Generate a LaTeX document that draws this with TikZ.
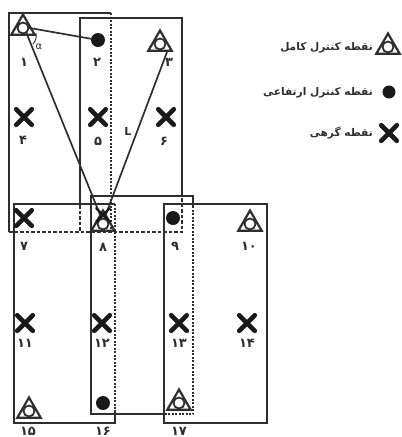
\documentclass[tikz,border=0pt]{standalone}
\usepackage{fontspec}
\newfontfamily\arabicfont[Script=Arabic]{DejaVu Sans}
\newfontfamily\latinfont{DejaVu Sans}
\TeXXeTstate=1
\usetikzlibrary{shapes.geometric,shapes.misc}
\definecolor{ink}{gray}{0.18}
\tikzset{
  frame/.style={draw=ink,line width=1.7pt},
  dashline/.style={draw=ink,line width=1.5pt,dash pattern=on 3.5pt off 2pt},
  dotline/.style={draw=ink,line width=2pt,dash pattern=on 2pt off 1.5pt},
  conn/.style={draw=ink,line width=1.7pt},
  tri/.style={regular polygon,regular polygon sides=3,draw=ink,line width=2.2pt,minimum size=27pt,inner sep=0pt,outer sep=0pt},
  hole/.style={circle,draw=ink,line width=1.8pt,fill=white,minimum size=11pt,inner sep=0pt},
  blob/.style={circle,fill=black!90,minimum size=14pt,inner sep=0pt},
  cross/.style={cross out,draw=black!90,line width=4.6pt,minimum size=11pt,inner sep=0pt,line cap=round},
  num/.style={font=\arabicfont\bfseries\fontsize{13}{14}\selectfont,text=ink,inner sep=0pt},
  legend/.style={font=\arabicfont\bfseries\fontsize{10.6}{12}\selectfont,text=ink,inner sep=0pt,anchor=east}
}
\begin{document}
\begin{tikzpicture}[x=1pt,y=-1pt]
\useasboundingbox (0,0) rectangle (402,437);
% frames
\coordinate (Atl) at (9,13); \coordinate (Atr) at (111,13);
\coordinate (Abl) at (9,232); \coordinate (Abr) at (111,232);
\coordinate (Btl) at (80,18); \coordinate (Btr) at (182,18);
\coordinate (Bl) at (80,205); \coordinate (Bbl) at (80,232);
\coordinate (Br) at (182,196); \coordinate (Bbr) at (182,232);
\path[frame] (Abl) -- (Atl) -- (Atr);
\path[frame] (Bl) -- (Btl) -- (Btr) -- (Br);
\path[dotline] (Atr) -- (Abr);
\path[dashline] (Abl) -- (Bbr) -- (Br);
\path[dashline] (Bl) -- (Bbl);
\coordinate (Ctl) at (14,204); \coordinate (Ctr) at (115,204);
\coordinate (Cr) at (115,410); \coordinate (Cbr) at (115,423); \coordinate (Cbl) at (14,423);
\path[frame] (Ctr) -- (Ctl) -- (Cbl) -- (Cbr) -- (Cr);
\path[dotline] (Ctr) -- (Cr);
\coordinate (Dtl) at (91,196); \coordinate (Dtr) at (193,196);
\coordinate (Dr) at (193,206); \coordinate (Dbr) at (193,414);
\coordinate (Db) at (164,414); \coordinate (Dbl) at (91,414);
\path[frame] (Db) -- (Dbl) -- (Dtl) -- (Dtr) -- (Dr);
\path[dotline] (Dr) -- (Dbr) -- (Db);
\draw[frame] (164,204) rectangle (267,423);
% connectors
\node[tri] (t1) at (23,28) {};
\node[blob] (d2) at (98,40) {};
\node[tri] (t3) at (160,44) {};
\node[tri] (t8) at (103,224) {};
\coordinate (c1) at (24,27);
\coordinate (c3) at (167,52);
\coordinate (c8) at (103,222);
\path[conn] (c1) -- (d2);
\path[conn] (c1) -- (c8);
\path[conn] (c3) -- (c8);
\coordinate (a1) at (36,33);
\coordinate (a2) at (33,44);
\draw[draw=ink,line width=0.9pt] (a1) to[bend left=25] (a2);
\node[font=\latinfont\fontsize{10}{11}\selectfont,text=ink,inner sep=0pt] (alpha) at (39,47) {α};
\node[font=\latinfont\bfseries\fontsize{11}{12}\selectfont,text=ink,inner sep=0pt] (Llabel) at (128,131) {L};
% triangles
\node[tri] (t10) at (250,224) {};
\node[tri] (t15) at (29,411) {};
\node[tri] (t17) at (179,403) {};
\foreach \n in {t1,t3,t8,t10,t15,t17}{\node[hole] at (\n.center) {};}
% dots
\node[blob] (d9) at (173,218) {};
\node[blob] (d16) at (103,403) {};
% crosses
\node[cross] (x4) at (24,117) {};
\node[cross] (x5) at (98,117) {};
\node[cross] (x6) at (166,117) {};
\node[cross] (x7) at (24,218) {};
\node[cross,line width=2.4pt,minimum size=11pt] (x8) at (103,215) {};
\node[cross] (x11) at (25,323) {};
\node[cross] (x12) at (102,323) {};
\node[cross] (x13) at (179,323) {};
\node[cross] (x14) at (247,323) {};
% numbers
\node[num] (n1) at (24,62) {۱};
\node[num] (n2) at (97,62) {۲};
\node[num] (n3) at (169,62) {۳};
\node[num] (n4) at (23,140) {۴};
\node[num] (n5) at (98,141) {۵};
\node[num] (n6) at (164,141) {۶};
\node[num] (n7) at (24,246) {۷};
\node[num] (n8) at (103,247) {۸};
\node[num] (n9) at (175,246) {۹};
\node[num] (n10) at (249,246) {۱۰};
\node[num] (n11) at (25,343) {۱۱};
\node[num] (n12) at (102,343) {۱۲};
\node[num] (n13) at (179,343) {۱۳};
\node[num] (n14) at (247,343) {۱۴};
\node[num] (n15) at (28,431) {۱۵};
\node[num] (n16) at (103,431) {۱۶};
\node[num] (n17) at (179,431) {۱۷};
% legend
\node[tri] (lt) at (388,47) {};
\node[hole] at (lt.center) {};
\node[blob,minimum size=13pt] (ld) at (389,92) {};
\node[cross] (lx) at (389,133) {};
\node[legend] (l1) at (373,48) {\beginR نقطه کنترل کامل\endR};
\node[legend] (l2) at (373,93) {\beginR نقطه کنترل ارتفاعی\endR};
\node[legend] (l3) at (373,133) {\beginR نقطه گرهی\endR};
\end{tikzpicture}
\end{document}
